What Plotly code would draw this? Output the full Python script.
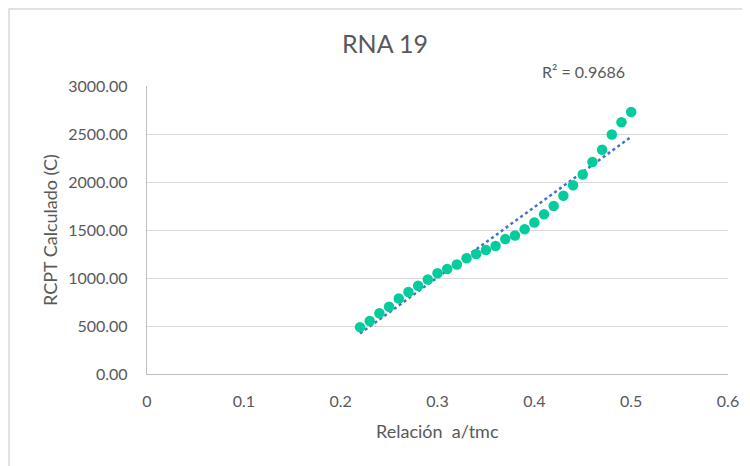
import numpy as np
import plotly.graph_objects as go

relacion = [0.22, 0.23, 0.24, 0.25, 0.26, 0.27, 0.28, 0.29, 0.30, 0.31,
            0.32, 0.33, 0.34, 0.35, 0.36, 0.37, 0.38, 0.39, 0.40, 0.41,
            0.42, 0.43, 0.44, 0.45, 0.46, 0.47, 0.48, 0.49, 0.50]
rcpt = [488, 552, 633, 700, 786, 854, 919, 985, 1050, 1094,
        1140, 1206, 1250, 1292, 1333, 1405, 1443, 1508, 1578, 1663,
        1750, 1856, 1966, 2078, 2208, 2336, 2495, 2623, 2729]

x_ticks = [0, 0.1, 0.2, 0.3, 0.4, 0.5, 0.6]
x_tick_text = ["0", "0.1", "0.2", "0.3", "0.4", "0.5", "0.6"]
y_ticks = [0, 500, 1000, 1500, 2000, 2500, 3000]
y_tick_text = ["0.00", "500.00", "1000.00", "1500.00", "2000.00", "2500.00", "3000.00"]

title_text = "RNA 19"
r2_text = "R² = 0.9686"
x_title = "Relación  a/tmc"
y_title = "RCPT Calculado (C)"

xa = np.array(relacion)
ya = np.array(rcpt)
slope, intercept = np.polyfit(xa, ya, 1)
trend_x = [xa.min(), xa.max()]
trend_y = [slope * v + intercept for v in trend_x]

FONT = "Lato, 'Open Sans', sans-serif"
GRAY = "#595959"

# plot area in page pixels (reference): left 147, right 728, top 86, bottom 374
PL, PR, PT, PB = 147, 728, 86, 374
PW, PH = PR - PL, PB - PT
OFF = 8  # page body margin


def px(xp):
    return (xp - PL) / PW


def py(yp):
    return (PB - yp) / PH


fig = go.Figure()
fig.add_trace(go.Scatter(
    x=trend_x, y=trend_y, mode="lines",
    line=dict(color="#4472C4", width=2.5, dash="dot"),
    hoverinfo="skip", showlegend=False))
fig.add_trace(go.Scatter(
    x=relacion, y=rcpt, mode="markers",
    marker=dict(color="#05CC9C", size=10.5, line=dict(width=0)),
    showlegend=False))

fig.update_layout(
    width=750, height=466,
    margin=dict(l=PL - OFF, r=750 - (PR - OFF), t=PT - OFF, b=466 - (PB - OFF)),
    paper_bgcolor="white", plot_bgcolor="white",
    font=dict(family=FONT, color=GRAY, size=16),
    title=dict(text=title_text, x=(385 - OFF) / 750, xanchor="center",
               y=1 - (44 - OFF) / 466, yanchor="middle",
               font=dict(size=25, color=GRAY, family=FONT)),
    xaxis=dict(range=[0, 0.6], tickvals=x_ticks, ticktext=x_tick_text,
               showgrid=False, zeroline=False, showline=True,
               linecolor="#BFBFBF", linewidth=1.3,
               ticks="outside", ticklen=13, tickcolor="rgba(0,0,0,0)",
               tickfont=dict(size=16, color=GRAY)),
    yaxis=dict(range=[0, 3000], tickvals=y_ticks, ticktext=y_tick_text,
               showgrid=True, gridcolor="#D9D9D9", gridwidth=1.3,
               zeroline=False, showline=True, linecolor="#BFBFBF", linewidth=1.3,
               ticks="outside", ticklen=15, tickcolor="rgba(0,0,0,0)",
               tickfont=dict(size=16, color=GRAY)),
    annotations=[
        dict(text=r2_text, xref="paper", yref="paper",
             x=px(583), y=py(71), xanchor="center", yanchor="middle",
             showarrow=False, font=dict(size=16, color=GRAY, family=FONT)),
        dict(text=x_title, xref="paper", yref="paper",
             x=px(437), y=py(431), xanchor="center", yanchor="middle",
             showarrow=False, font=dict(size=18, color=GRAY, family=FONT)),
        dict(text=y_title, xref="paper", yref="paper", textangle=-90,
             x=px(50), y=py(230), xanchor="center", yanchor="middle",
             showarrow=False, font=dict(size=18, color=GRAY, family=FONT)),
    ],
    shapes=[dict(type="rect", xref="paper", yref="paper",
                 x0=px(9), x1=px(780), y0=py(500), y1=py(9),
                 line=dict(color="#D9D9D9", width=1.5), layer="below")],
)

fig.write_html("out.html")
